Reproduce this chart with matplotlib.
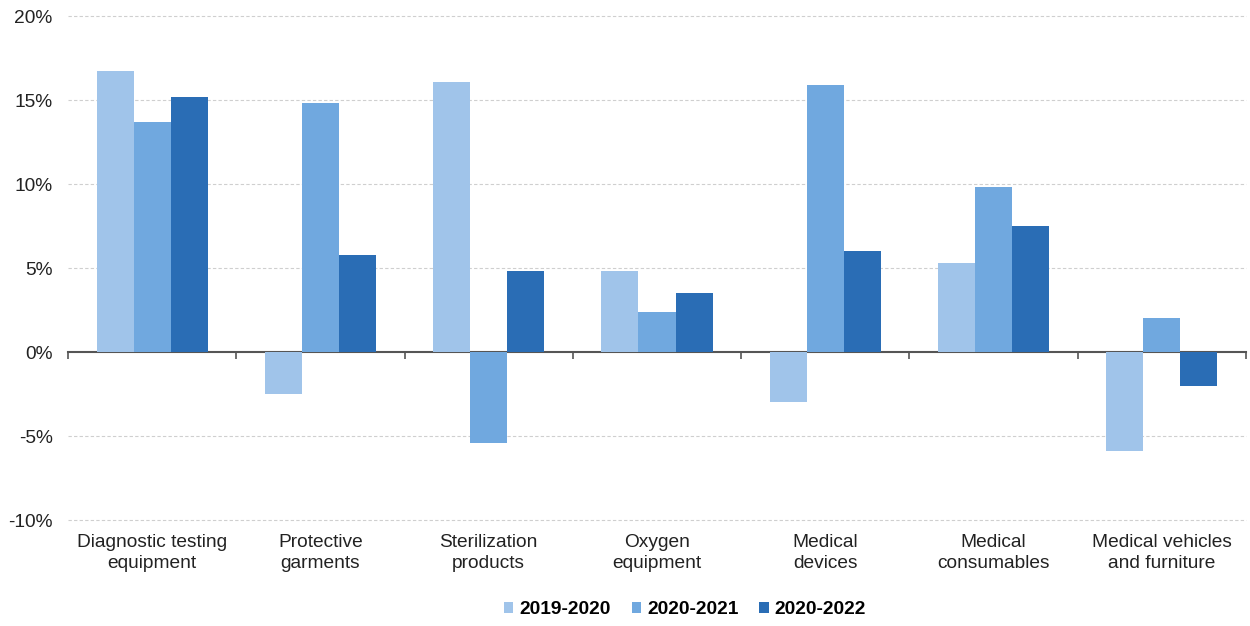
import numpy as np
import matplotlib
matplotlib.use('Agg')
import matplotlib.pyplot as plt
from matplotlib.ticker import FuncFormatter

plt.rcParams['font.family'] = ['Liberation Sans', 'DejaVu Sans']

categories = ['Diagnostic testing\nequipment', 'Protective\ngarments',
              'Sterilization\nproducts', 'Oxygen\nequipment',
              'Medical\ndevices', 'Medical\nconsumables',
              'Medical vehicles\nand furniture']
series = ['2019-2020', '2020-2021', '2020-2022']
v_2019_2020 = [16.7, -2.5, 16.1, 4.8, -3.0, 5.3, -5.9]
v_2020_2021 = [13.7, 14.8, -5.4, 2.4, 15.9, 9.8, 2.0]
v_2020_2022 = [15.2, 5.8, 4.8, 3.5, 6.0, 7.5, -2.0]
values = [v_2019_2020, v_2020_2021, v_2020_2022]
colors = ['#A0C4EA', '#70A8DF', '#2A6DB5']

fig = plt.figure(figsize=(12.5, 6.26), dpi=100)
ax = fig.add_axes([0.0544, 0.1693, 0.9424, 0.8051])

n = len(categories)
ind = np.arange(n)
width = 0.22
for i, (vals, c, lab) in enumerate(zip(values, colors, series)):
    ax.bar(ind + (i - 1) * width, vals, width, color=c, label=lab, zorder=3)

ax.set_xlim(-0.5, n - 0.5)
ax.set_ylim(-10, 20)
ax.set_yticks(np.arange(-10, 21, 5))
ax.yaxis.set_major_formatter(FuncFormatter(lambda v, p: '%d%%' % v))
ax.tick_params(axis='y', length=0, pad=11, labelsize=13.8, colors='#222222')

for y in [-10, -5, 5, 10, 15, 20]:
    ax.axhline(y, color='#cfcfcf', lw=0.8, ls=(0, (3, 2)), zorder=1,
               clip_on=False)

for s in ax.spines.values():
    s.set_visible(False)

ax.set_xticks(ind)
ax.set_xticklabels(categories, fontsize=13.8, color='#222222', linespacing=1.3)
ax.tick_params(axis='x', length=0, pad=10)

# zero line with category boundary ticks
zax = ax.secondary_xaxis(1 / 3)
zax.set_xticks(np.arange(n + 1) - 0.5)
zax.set_xticklabels([])
zax.tick_params(axis='x', direction='out', length=5, width=1.2, color='#555555')
zax.spines['bottom'].set_color('#555555')
zax.spines['bottom'].set_linewidth(1.5)
zax.spines['top'].set_visible(False)

fig.legend(loc='center', bbox_to_anchor=(0.548, 0.026), ncol=3, frameon=False,
           prop={'weight': 'bold', 'size': 13.8}, handlelength=0.5,
           handleheight=0.5, handletextpad=0.3, columnspacing=1.1)

fig.savefig('out.png', dpi=100)
